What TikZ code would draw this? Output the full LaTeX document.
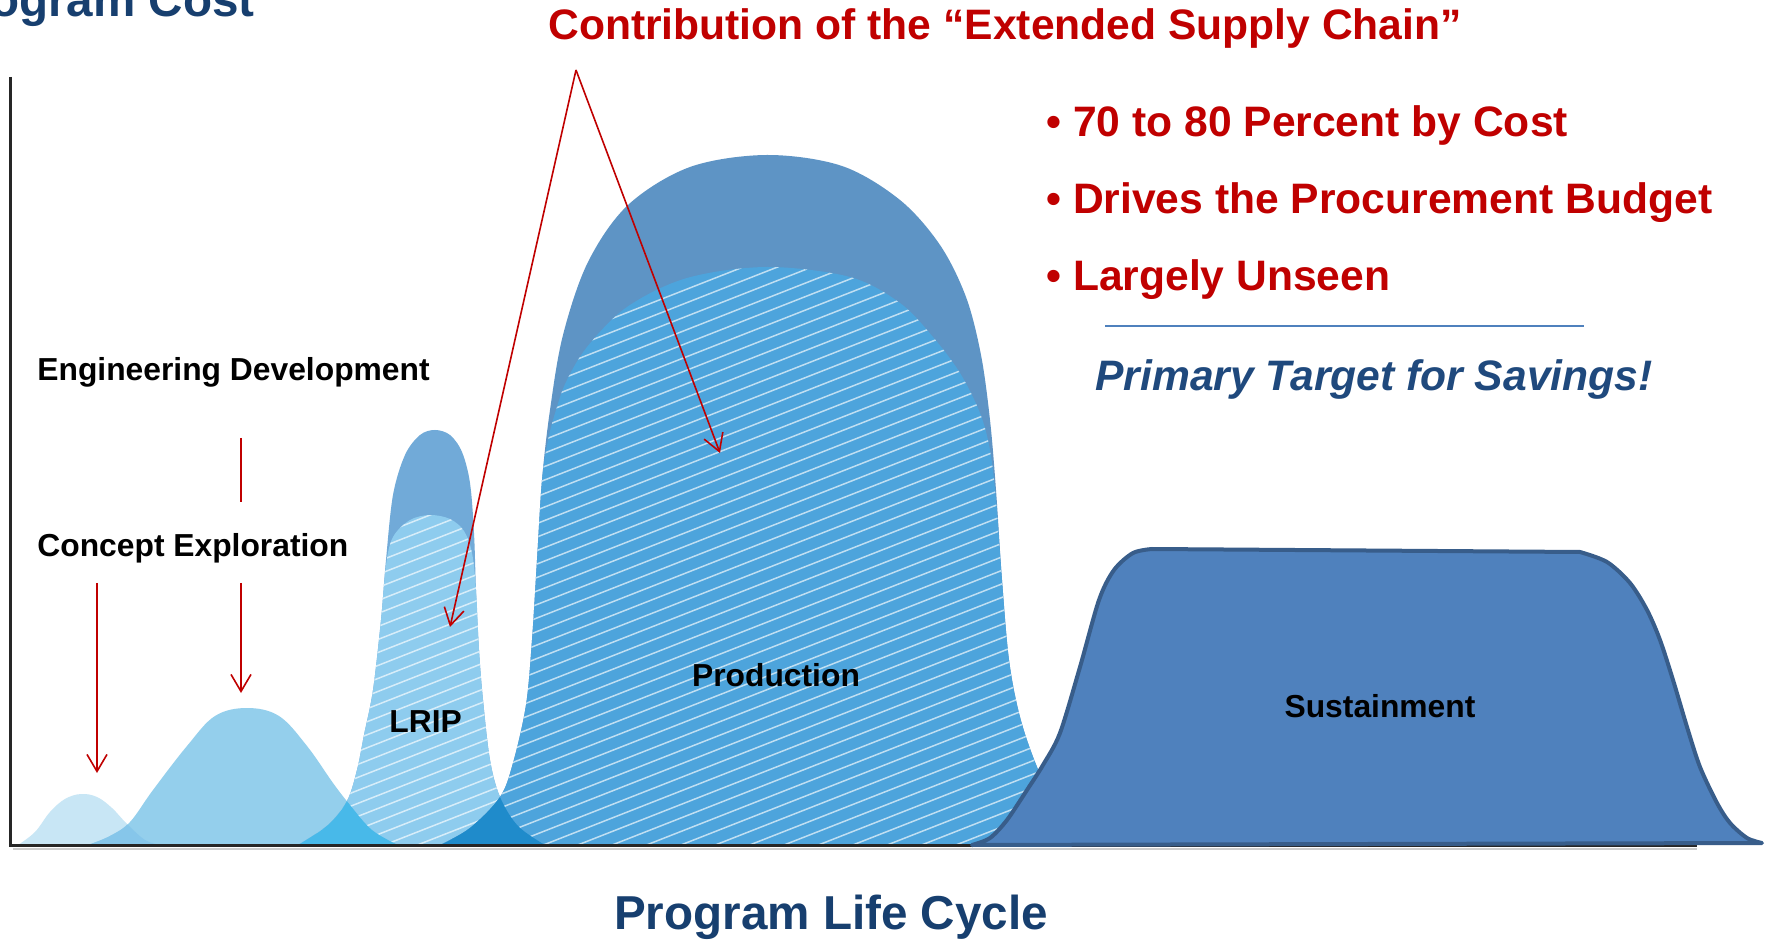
\documentclass[tikz,border=0pt]{standalone}
\usepackage{fontspec}
\setmainfont{Liberation Sans}
\usetikzlibrary{arrows.meta}
\definecolor{redc}{HTML}{C00000}
\definecolor{navyc}{HTML}{173F6F}
\definecolor{savec}{HTML}{1F497D}
\definecolor{rulec}{HTML}{4F81BD}
\definecolor{smallc}{HTML}{C8E6F5}
\definecolor{engc}{HTML}{94CFEC}
\definecolor{smengc}{HTML}{86C6EA}
\definecolor{lripoutc}{HTML}{71AAD8}
\definecolor{lripinc}{HTML}{8ECCEE}
\definecolor{englripc}{HTML}{48B9E9}
\definecolor{prodoutc}{HTML}{5E94C5}
\definecolor{prodinc}{HTML}{4DA4DC}
\definecolor{lripprodc}{HTML}{1F8BCB}
\definecolor{sustc}{HTML}{4F81BD}
\definecolor{sustlinec}{HTML}{385D8A}
\def\pSmall{plot[smooth,tension=0.6] coordinates {(18,845) (35,832) (50,812) (65,799) (81,794) (97,797) (112,808) (127,824) (145,840) (160,845)} -- cycle}
\def\pEng{plot[smooth,tension=0.6] coordinates {(88,845) (110,836) (130,822) (153,790) (187,746) (215,716) (247,708) (279,716) (307,746) (333,783) (350,805) (372,830) (398,845)} -- cycle}
\def\pLout{plot[smooth,tension=0.55] coordinates {(298,845) (328,825) (347,801) (357,770) (364,735) (373,690) (381,620) (386,560) (393,495) (405,455) (420,435) (435,430) (450,435) (462,452) (470,483) (474,533) (476,590) (479,650) (483,700) (490,760) (500,797) (518,826) (545,845)} -- cycle}
\def\pLin{plot[smooth,tension=0.55] coordinates {(298,845) (328,825) (347,801) (357,770) (364,735) (373,690) (381,620) (386,565) (393,537) (410,520) (430,515) (450,519) (464,531) (472,553) (476,590) (479,650) (483,700) (490,760) (500,797) (518,826) (545,845)} -- cycle}
\def\pPout{plot[smooth,tension=0.55] coordinates {(440,845) (470,828) (500,797) (513,763) (526,705) (532,640) (537,560) (542,480) (550,410) (563,335) (588,262) (628,205) (690,167) (767,155) (842,166) (900,200) (940,245) (966,297) (981,355) (990,420) (996,490) (1002,580) (1009,660) (1020,717) (1037,767) (1060,815) (1085,845)} -- cycle}
\def\pPin{plot[smooth,tension=0.55] coordinates {(440,845) (470,828) (500,797) (513,763) (526,705) (532,640) (537,560) (542,480) (548,440) (556,410) (566,382) (587,347) (627,307) (687,278) (767,267) (850,277) (900,303) (933,337) (960,373) (980,413) (990,450) (996,500) (1002,580) (1009,660) (1020,717) (1037,767) (1060,815) (1085,845)} -- cycle}
\def\pSust{plot[smooth,tension=0.5] coordinates {(972,845) (990,838) (1007,820) (1027,790) (1043,765) (1060,733) (1080,667) (1099,600) (1114,570) (1133,553) (1152,549)} -- plot[smooth,tension=0.5] coordinates {(1580,552) (1607,562) (1630,583) (1647,610) (1660,640) (1673,680) (1687,727) (1700,767) (1717,803) (1730,823) (1747,838) (1762,843)} -- cycle}
\begin{document}
\begin{tikzpicture}[x=0.5pt,y=-0.5pt,
  hatch/.style={white,line width=0.75pt,opacity=0.65},
  redarrow/.style={redc,line width=0.8pt,-{Straight Barb[length=8.5pt,width=10pt]}},
  redline/.style={redc,line width=0.8pt},
  axisline/.style={black!85,line width=1.5pt},
  lbl/.style={inner sep=0,font=\fontsize{15.9}{18}\selectfont\bfseries,text=black},
  bigblue/.style={inner sep=0,font=\fontsize{23.8}{28}\selectfont\bfseries,text=navyc},
  redtext/.style={inner sep=0,font=\fontsize{21.3}{25}\selectfont\bfseries,text=redc}]
\useasboundingbox (0,0) rectangle (1767,940);
\clip (0,0) rectangle (1767,940);
\fill[white] (0,0) rectangle (1767,940);
% concept exploration & engineering development
\fill[smallc] \pSmall;
\fill[engc] \pEng;
\begin{scope}\clip \pSmall; \fill[smengc] \pEng; \end{scope}
% LRIP
\fill[lripoutc] \pLout;
\fill[lripinc] \pLin;
\begin{scope}\clip \pLin;
  \foreach \k in {0,...,34} \draw[hatch] (290,{505+\k*13}) -- ++(270,-106);
\end{scope}
\begin{scope}\clip \pLout; \fill[englripc] \pEng; \end{scope}
% Production
\fill[prodoutc] \pPout;
\fill[prodinc] \pPin;
\begin{scope}\clip \pPin;
  \foreach \k in {0,...,68} \draw[hatch] (430,{255+\k*13.5}) -- ++(680,-267);
\end{scope}
\begin{scope}\clip \pPout; \fill[lripprodc] \pLout; \end{scope}
% axes
\draw[black!20,line width=1pt] (13,849) -- (1697,849);
\draw[axisline] (10,77) -- (10,845) -- (1697,845);
% Sustainment
\fill[sustc] \pSust;
\draw[sustlinec,line width=2pt,line join=round,line cap=round] \pSust;
% titles
\node[bigblue,anchor=base east] (pcost) at (255,17) {Program Cost};
\node[bigblue,anchor=base] (plc) at (831,929) {Program Life Cycle};
\node[redtext,anchor=base] (esc) at (1005,40) {Contribution of the “Extended Supply Chain”};
\node[redtext,anchor=base west] (b1) at (1046,137) {• 70 to 80 Percent by Cost};
\node[redtext,anchor=base west] (b2) at (1046,214) {• Drives the Procurement Budget};
\node[redtext,anchor=base west] (b3) at (1046,291) {• Largely Unseen};
\coordinate (ruleL) at (1105,326);
\coordinate (ruleR) at (1584,326);
\draw[rulec,line width=1pt] (ruleL) -- (ruleR);
\node[inner sep=0,anchor=base,font=\fontsize{21.3}{25}\selectfont\bfseries\itshape,text=savec] (pts) at (1374,391) {Primary Target for Savings!};
% phase labels
\node[lbl,anchor=base west] (ed) at (37,381) {Engineering Development};
\node[lbl,anchor=base west] (ce) at (37,557) {Concept Exploration};
\node[lbl,anchor=base west] (lrip) at (389,733) {LRIP};
\node[lbl,anchor=base] (prod) at (776,686) {Production};
\node[lbl,anchor=base] (sust) at (1380,717) {Sustainment};
% red arrows
\coordinate (apex) at (576,70);
\coordinate (lripT) at (450,627);
\coordinate (prodT) at (720,453);
\draw[redarrow] (apex) -- (lripT);
\draw[redarrow] (apex) -- (prodT);
\coordinate (ceS) at (97,583);
\coordinate (ceT) at (97,773);
\draw[redarrow] (ceS) -- (ceT);
\coordinate (edA) at (241,438);
\coordinate (edB) at (241,502);
\draw[redline] (edA) -- (edB);
\coordinate (edS) at (241,583);
\coordinate (edT) at (241,693);
\draw[redarrow] (edS) -- (edT);
\end{tikzpicture}
\end{document}
